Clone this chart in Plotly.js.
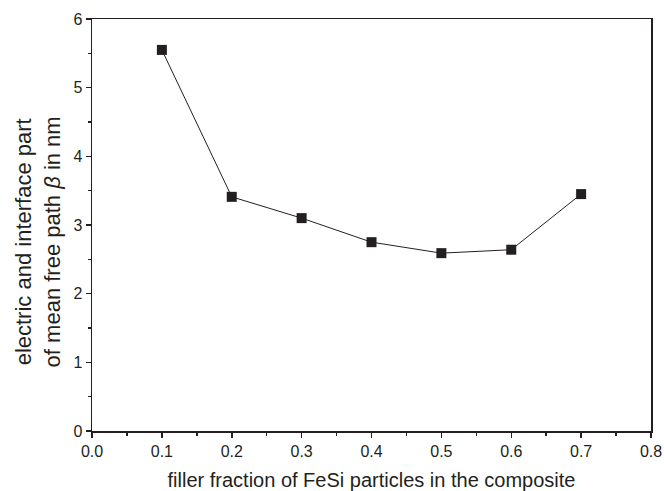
<!DOCTYPE html>
<html>
<head>
<meta charset="utf-8">
<script src="https://cdn.plot.ly/plotly-3.0.1.min.js"></script>
<style>html,body{margin:0;padding:0;background:#fff;}#chart{width:664px;height:491px;}</style>
</head>
<body>
<div id="chart"></div>
<script>
const fillerFraction = [0.1, 0.2, 0.3, 0.4, 0.5, 0.6, 0.7];
const meanFreePath = [5.55, 3.41, 3.10, 2.75, 2.59, 2.64, 3.45];
const xTickVals = [0, 0.1, 0.2, 0.3, 0.4, 0.5, 0.6, 0.7, 0.8];
const xTickText = ['0.0', '0.1', '0.2', '0.3', '0.4', '0.5', '0.6', '0.7', '0.8'];
const yTickVals = [0, 1, 2, 3, 4, 5, 6];
const xTitle = 'filler fraction of FeSi particles in the composite';
const yTitle = 'electric and interface part<br>of mean free path <i>β</i> in nm';

const ink = '#231f20';
const fontFam = 'Liberation Sans, Arial, sans-serif';
const trace = {
  x: fillerFraction,
  y: meanFreePath,
  type: 'scatter',
  mode: 'lines+markers',
  line: {color: ink, width: 1},
  marker: {symbol: 'square', size: 10, color: ink}
};

const axisCommon = {
  showgrid: false,
  zeroline: false,
  showline: true,
  linecolor: ink,
  linewidth: 1.5,
  mirror: true,
  ticks: 'outside',
  ticklen: 5,
  tickwidth: 1.5,
  tickcolor: ink,
  tickfont: {family: fontFam, size: 16, color: ink}
};

const layout = {
  width: 664,
  height: 491,
  margin: {l: 92, r: 13, t: 19, b: 60},
  paper_bgcolor: '#fff',
  plot_bgcolor: '#fff',
  showlegend: false,
  xaxis: Object.assign({}, axisCommon, {
    range: [0, 0.8],
    tickmode: 'array',
    tickvals: xTickVals,
    ticktext: xTickText,
    minor: {dtick: 0.05, ticks: 'outside', ticklen: 3, tickwidth: 1.5, tickcolor: ink, showgrid: false},
    title: {text: xTitle, font: {family: fontFam, size: 20, color: ink}, standoff: 15}
  }),
  yaxis: Object.assign({}, axisCommon, {
    range: [0, 6],
    tickmode: 'array',
    tickvals: yTickVals,
    minor: {dtick: 0.5, ticks: 'outside', ticklen: 3, tickwidth: 1.5, tickcolor: ink, showgrid: false}
  }),
  annotations: [{
    text: yTitle,
    xref: 'paper', yref: 'paper',
    x: -0.095, y: 0.46,
    xanchor: 'center', yanchor: 'middle',
    textangle: -90,
    showarrow: false,
    font: {family: fontFam, size: 22, color: ink}
  }]
};

Plotly.newPlot('chart', [trace], layout, {displayModeBar: false, staticPlot: true});
</script>
</body>
</html>
